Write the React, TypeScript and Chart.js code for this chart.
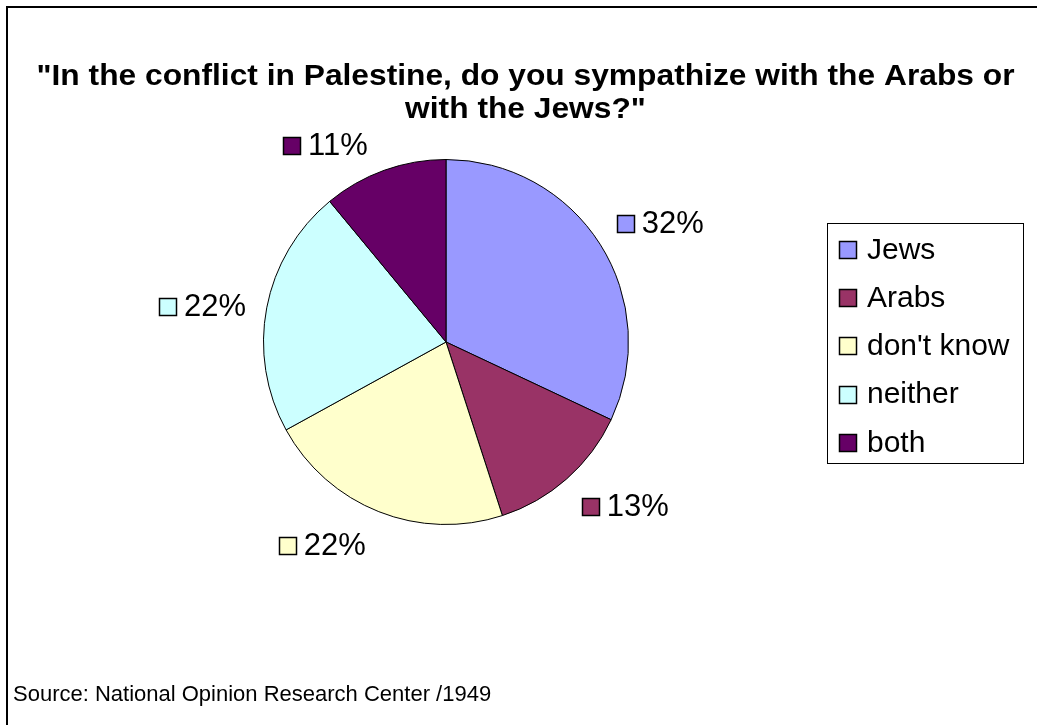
import React, { useEffect, useRef } from "react";
import { Chart, registerables } from "chart.js";

Chart.register(...registerables);

// ---- data ----
const TITLE_LINES = [
  '"In the conflict in Palestine, do you sympathize with the Arabs or',
  'with the Jews?"',
];
const CATEGORIES = ["Jews", "Arabs", "don't know", "neither", "both"];
const VALUES = [32, 13, 22, 22, 11];
const COLORS = ["#9999FF", "#993366", "#FFFFCC", "#CCFFFF", "#660066"];
const SOURCE = "Source: National Opinion Research Center /1949";

// ---- layout / style (not data) ----
const FONT = '"Liberation Sans", Arial, Helvetica, sans-serif';
const W = 1037;
const H = 725;
const LABEL_ANGLE_SHIFT = [3.4, -6.1, 9.7, -2.4, -11.8]; // degrees, clockwise
const LABEL_DIST = [1.343, 1.333, 1.304, 1.348, 1.262]; // x outer radius

const overlayPlugin = {
  id: "overlay",
  beforeDraw(chart: any) {
    const ctx = chart.ctx as CanvasRenderingContext2D;
    ctx.save();
    ctx.fillStyle = "#ffffff";
    ctx.fillRect(0, 0, W, H);
    ctx.strokeStyle = "#000000";
    ctx.lineWidth = 2;
    ctx.beginPath();
    ctx.moveTo(7, H + 5);
    ctx.lineTo(7, 7);
    ctx.lineTo(W + 5, 7);
    ctx.stroke();
    ctx.restore();
  },
  afterDraw(chart: any) {
    const ctx = chart.ctx as CanvasRenderingContext2D;
    const total = VALUES.reduce((a, b) => a + b, 0);
    ctx.save();

    // title
    ctx.fillStyle = "#000";
    ctx.textAlign = "center";
    ctx.textBaseline = "alphabetic";
    ctx.font = `bold 30px ${FONT}`;
    const base1 = ctx.measureText(TITLE_LINES[0]).width;
    const sx = 978 / base1;
    const baselines = [85, 118];
    TITLE_LINES.forEach((line, i) => {
      ctx.save();
      ctx.translate(525.5, baselines[i]);
      ctx.scale(sx, 1);
      ctx.fillText(line, 0, 0);
      ctx.restore();
    });

    // data labels
    const meta = chart.getDatasetMeta(0);
    const sq = 17;
    const gap = 8;
    ctx.font = `31px ${FONT}`;
    ctx.textAlign = "left";
    ctx.textBaseline = "middle";
    meta.data.forEach((arc: any, i: number) => {
      const p = arc.getProps(["x", "y", "startAngle", "endAngle", "outerRadius"], true);
      const mid = (p.startAngle + p.endAngle) / 2 + (LABEL_ANGLE_SHIFT[i] * Math.PI) / 180;
      const d = p.outerRadius * LABEL_DIST[i];
      const cx = p.x + Math.cos(mid) * d;
      const cy = p.y + Math.sin(mid) * d;
      const txt = `${Math.round((VALUES[i] / total) * 100)}%`;
      const tw = ctx.measureText(txt).width;
      const bw = sq + gap + tw;
      const left = cx - bw / 2;
      ctx.fillStyle = COLORS[i];
      ctx.fillRect(Math.round(left) + 0.5, Math.round(cy - sq / 2) + 0.5, sq, sq);
      ctx.strokeStyle = "#000";
      ctx.lineWidth = 1.5;
      ctx.strokeRect(Math.round(left) + 0.5, Math.round(cy - sq / 2) + 0.5, sq, sq);
      ctx.fillStyle = "#000";
      ctx.fillText(txt, left + sq + gap, cy + 1);
    });

    // legend box
    ctx.strokeStyle = "#000";
    ctx.lineWidth = 1;
    ctx.strokeRect(827.5, 223.5, 196, 240);
    ctx.font = `30px ${FONT}`;
    CATEGORIES.forEach((cat, i) => {
      const cy = 249.5 + i * 48.2;
      ctx.fillStyle = COLORS[i];
      ctx.fillRect(839.5, Math.round(cy - 8.5) + 0.5, 17, 17);
      ctx.lineWidth = 1.5;
      ctx.strokeRect(839.5, Math.round(cy - 8.5) + 0.5, 17, 17);
      ctx.fillStyle = "#000";
      ctx.fillText(cat, 867, cy + 1);
    });

    // source
    ctx.font = `22px ${FONT}`;
    ctx.textBaseline = "alphabetic";
    ctx.fillText(SOURCE, 13, 701);

    ctx.restore();
  },
};

export default function App() {
  const ref = useRef<HTMLCanvasElement | null>(null);
  useEffect(() => {
    if (!ref.current) return;
    const chart = new Chart(ref.current, {
      type: "pie",
      data: {
        labels: CATEGORIES,
        datasets: [
          {
            data: VALUES,
            backgroundColor: COLORS,
            borderColor: "#000000",
            borderWidth: 1,
            hoverOffset: 0,
          },
        ],
      },
      options: {
        responsive: false,
        animation: false,
        events: [],
        layout: { padding: { left: 263, top: 159, right: 408, bottom: 200 } },
        plugins: {
          legend: { display: false },
          title: { display: false },
          tooltip: { enabled: false },
        },
      },
      plugins: [overlayPlugin],
    });
    return () => chart.destroy();
  }, []);
  return (
    <div style={{ position: "fixed", left: 0, top: 0, width: W, height: H, overflow: "hidden", background: "#fff" }}>
      <canvas ref={ref} width={W} height={H} style={{ width: W, height: H, display: "block" }} />
    </div>
  );
}
